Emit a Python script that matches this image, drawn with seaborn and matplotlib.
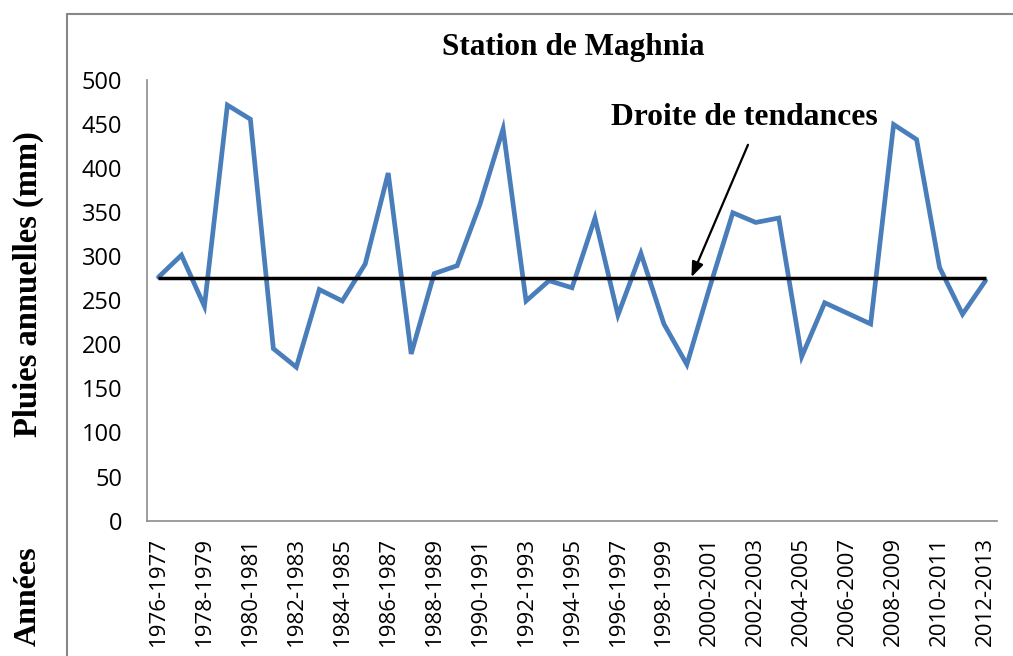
import matplotlib
matplotlib.use("Agg")
import matplotlib.pyplot as plt
import numpy as np
import pandas as pd
import seaborn as sns
from matplotlib.lines import Line2D

# hydrological years
annees = ['1976-1977', '1977-1978', '1978-1979', '1979-1980', '1980-1981',
          '1981-1982', '1982-1983', '1983-1984', '1984-1985', '1985-1986',
          '1986-1987', '1987-1988', '1988-1989', '1989-1990', '1990-1991',
          '1991-1992', '1992-1993', '1993-1994', '1994-1995', '1995-1996',
          '1996-1997', '1997-1998', '1998-1999', '1999-2000', '2000-2001',
          '2001-2002', '2002-2003', '2003-2004', '2004-2005', '2005-2006',
          '2006-2007', '2007-2008', '2008-2009', '2009-2010', '2010-2011',
          '2011-2012', '2012-2013']

# annual rainfall (mm)
pluies = [276, 301, 243, 471, 455, 195, 174, 262, 249, 291,
          394, 189, 280, 289, 359, 444, 249, 272, 264, 343,
          233, 303, 223, 177, 265, 349, 338, 343, 186, 247,
          235, 223, 449, 432, 287, 234, 272]

tendance = 275
yticks = list(range(0, 501, 50))

df = pd.DataFrame({'idx': np.arange(len(annees)), 'pluie': pluies})

sns.set_style('white', {'text.color': 'black', 'xtick.color': 'black',
                        'ytick.color': 'black'})
plt.rcParams['font.family'] = ['Open Sans', 'DejaVu Sans']

fig = plt.figure(figsize=(10.13, 6.56), dpi=100)
ax = fig.add_axes([147 / 1013, 1 - 520.7 / 656, 850 / 1013, 441.2 / 656])

sns.lineplot(data=df, x='idx', y='pluie', ax=ax, color='#4A7EBB', linewidth=3.4,
             solid_capstyle='round', solid_joinstyle='miter')
ax.plot([0, len(annees) - 1], [tendance, tendance], color='black', linewidth=2.5,
        solid_capstyle='butt')

ax.set_xlim(-0.5, len(annees) - 0.5)
ax.set_ylim(0, 500)
ax.set_yticks(yticks)
ax.set_yticklabels([str(v) for v in yticks], fontsize=17, color='black')
ax.set_xticks(np.arange(0, len(annees), 2))
ax.set_xticklabels(annees[::2], rotation=90, fontsize=16, color='black')
ax.tick_params(axis='y', length=0, pad=18)
ax.tick_params(axis='x', length=0, pad=12)
ax.set_xlabel('')
ax.set_ylabel('')

for side in ['top', 'right']:
    ax.spines[side].set_visible(False)
for side in ['left', 'bottom']:
    ax.spines[side].set_color('#8c8c8c')
    ax.spines[side].set_linewidth(1.2)

serif = ['Liberation Serif', 'DejaVu Serif']
fig.text(573 / 1013, 1 - 47 / 656, 'Station de Maghnia', family=serif,
         fontweight='bold', fontsize=22.5, ha='center', va='center', color='black')
fig.text(28 / 1013, 1 - 284 / 656, 'Pluies annuelles (mm)', family=serif,
         fontweight='bold', fontsize=23.5, rotation=90, ha='center', va='center',
         color='black')
fig.text(28 / 1013, 1 - 596 / 656, 'Années', family=serif,
         fontweight='bold', fontsize=23, rotation=90, ha='center', va='center',
         color='black')

ax.text(25.5, 457, 'Droite de tendances', family=serif, fontweight='bold',
        fontsize=22.8, ha='center', va='center', color='black')
ax.annotate('', xy=(23.2, tendance + 1), xytext=(25.66, 426),
            arrowprops=dict(arrowstyle='-|>,head_length=0.9,head_width=0.35',
                            color='black', lw=1.6, shrinkA=0, shrinkB=0))

# chart frame
fx = 67 / 1013
fy = 1 - 14 / 656
fig.add_artist(Line2D([fx, fx], [0, fy], color='#888888', lw=1.5))
fig.add_artist(Line2D([fx, 1], [fy, fy], color='#888888', lw=1.5))

fig.savefig('out.png', dpi=100)
